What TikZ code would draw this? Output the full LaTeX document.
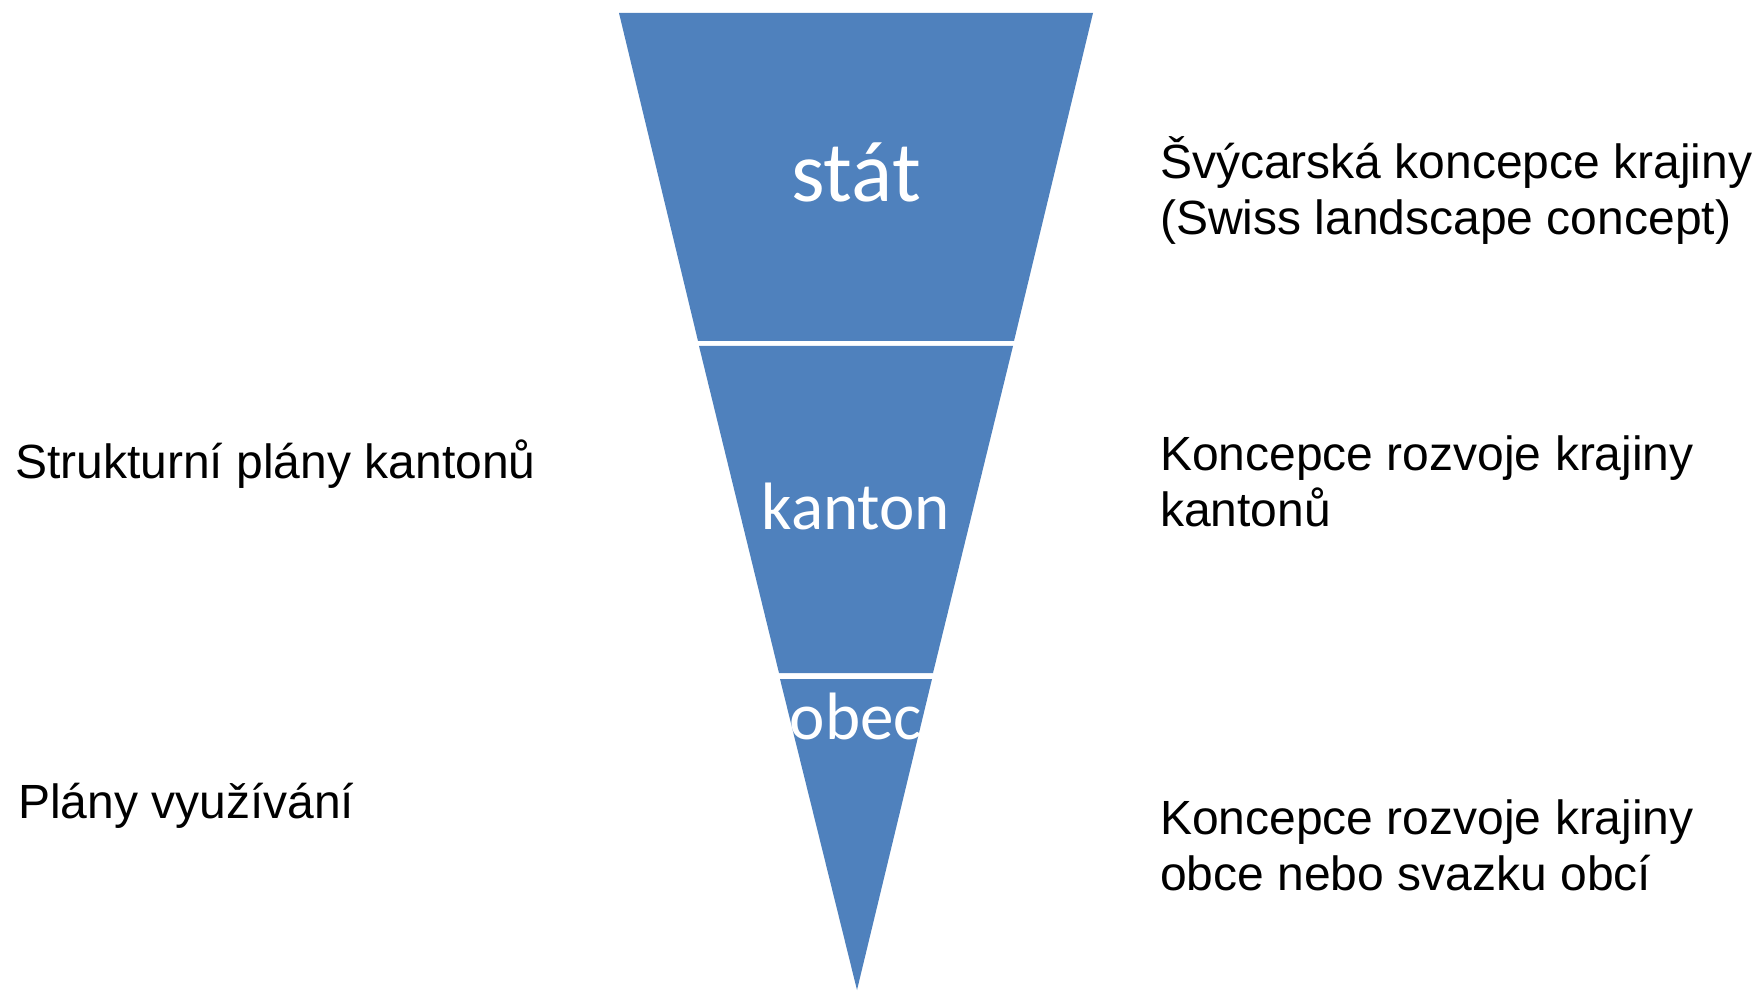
\documentclass[tikz,border=0pt]{standalone}
\usepackage{fontspec}
\setmainfont{Liberation Sans}
\newfontfamily\calfont{Carlito}
\definecolor{funnelblue}{RGB}{79,129,189}
\begin{document}
\begin{tikzpicture}[x=1pt,y=-1pt,
  seg/.style={fill=funnelblue,draw=none},
  inlabel/.style={font=\calfont\fontsize{67}{80}\selectfont,text=white,inner sep=0pt,anchor=base},
  sidelabel/.style={font=\fontsize{48}{55.5}\selectfont,text=black,inner sep=0pt,anchor=base west,align=left}]
\useasboundingbox (0,0) rectangle (1757,992);
% funnel segments
\fill[seg] (619,13) -- (1093,13) -- (1014,341) -- (698,341) -- cycle;
\fill[seg] (699,346) -- (1013,346) -- (933,673) -- (779,673) -- cycle;
\fill[seg] (780,679) -- (932,679) -- (857,990) -- cycle;
% labels inside
\node[inlabel,font=\calfont\fontsize{86}{100}\selectfont] (stat) at (856,202) {stát};
\node[inlabel] (kanton) at (856,529) {kanton};
\node[inlabel] (obec) at (856,739) {obec};
% left labels
\node[sidelabel] (left1) at (15,478) {Strukturní plány kantonů};
\node[sidelabel] (left2) at (18,818) {Plány využívání};
% right labels (anchored at the baseline of the last line)
\node[sidelabel] (right1) at (1160,234.5) {Švýcarská koncepce krajiny\\(Swiss landscape concept)};
\node[sidelabel] (right2) at (1160,526) {Koncepce rozvoje krajiny\\kantonů};
\node[sidelabel] (right3) at (1160,890) {Koncepce rozvoje krajiny\\obce nebo svazku obcí};
\end{tikzpicture}
\end{document}
